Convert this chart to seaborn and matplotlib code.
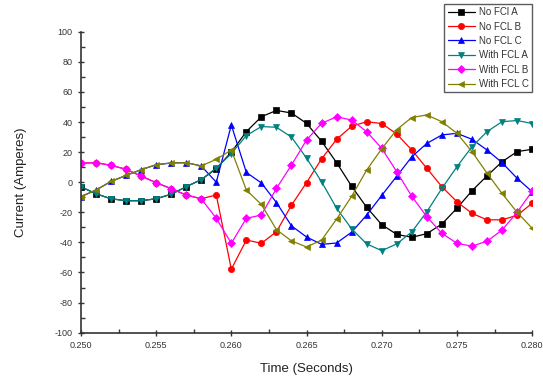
import matplotlib
matplotlib.use("Agg")
import matplotlib.pyplot as plt
import seaborn as sns
import pandas as pd
from matplotlib.ticker import MultipleLocator

time_s = [0.250, 0.251, 0.252, 0.253, 0.254, 0.255, 0.256, 0.257, 0.258, 0.259,
          0.260, 0.261, 0.262, 0.263, 0.264, 0.265, 0.266, 0.267, 0.268, 0.269,
          0.270, 0.271, 0.272, 0.273, 0.274, 0.275, 0.276, 0.277, 0.278, 0.279, 0.280]

no_fcl_a = [-3.0, -7.7, -11.0, -12.3, -12.3, -11.0, -8.0, -3.0, 1.7, 9.0,
            20.0, 33.6, 43.5, 47.7, 46.0, 39.1, 27.2, 13.0, -2.7, -16.7,
            -28.2, -34.7, -36.6, -34.2, -27.8, -17.3, -5.7, 4.2, 13.6, 20.3, 21.9]
no_fcl_b = [12.6, 13.0, 11.2, 8.6, 4.1, -0.3, -4.3, -8.5, -11.0, -8.5,
            -57.8, -38.4, -40.6, -32.9, -15.3, -0.3, 15.5, 28.5, 37.2, 40.2,
            39.0, 32.0, 21.4, 9.2, -3.0, -13.0, -20.7, -25.0, -25.0, -22.0, -14.0]
no_fcl_c = [-9.6, -5.2, 0.5, 4.5, 8.3, 11.6, 12.8, 13.0, 10.8, 0.0,
            38.0, 6.5, -0.5, -13.5, -29.0, -36.4, -41.3, -40.4, -33.2, -21.8,
            -8.8, 4.0, 16.9, 25.8, 31.4, 32.5, 28.5, 21.4, 13.0, 2.6, -6.3]
with_fcl_a = [-3.0, -7.7, -11.0, -12.3, -12.3, -11.0, -8.0, -3.0, 1.7, 9.5,
              19.0, 31.0, 37.0, 36.5, 30.0, 16.0, 0.3, -17.3, -31.0, -41.0,
              -45.5, -41.0, -33.0, -19.6, -4.1, 10.3, 23.6, 33.6, 40.2, 41.0, 39.0]
with_fcl_b = [12.6, 13.0, 11.2, 8.6, 4.1, -0.3, -4.3, -8.5, -11.0, -24.0,
              -40.6, -24.0, -21.8, -4.1, 11.4, 28.0, 39.1, 43.5, 41.3, 33.6,
              22.5, 7.0, -9.4, -23.0, -34.0, -40.6, -42.5, -39.2, -31.8, -20.0, -6.0]
with_fcl_c = [-9.6, -5.2, 0.5, 4.5, 8.3, 11.6, 12.8, 13.0, 10.8, 15.2,
              21.4, -5.2, -14.8, -31.5, -39.0, -43.0, -38.5, -24.5, -9.4, 8.1,
              22.2, 35.0, 43.0, 44.7, 40.2, 32.5, 20.3, 6.0, -7.5, -20.0, -30.6]

series_names = ["No FCl A", "No FCL B", "No FCL C", "With FCL A", "With FCL B", "With FCL C"]
series_vals = [no_fcl_a, no_fcl_b, no_fcl_c, with_fcl_a, with_fcl_b, with_fcl_c]
colors = ["#000000", "#FF0000", "#0000FF", "#008080", "#FF00FF", "#808000"]
markers = ["s", "o", "^", "v", "D", "<"]
msizes = [3.8, 4.5, 4.8, 4.8, 4.0, 4.8]

sns.set_style("ticks")
plt.rcParams['font.family'] = ['Liberation Sans', 'DejaVu Sans']
plt.rcParams['axes.unicode_minus'] = False

fig = plt.figure(figsize=(5.43, 3.80), dpi=100)
ax = fig.add_axes([0.149, 0.1245, 0.831, 0.792])

for name, vals, c, m, ms in zip(series_names, series_vals, colors, markers, msizes):
    df = pd.DataFrame({"t": time_s, "I": vals})
    sns.lineplot(data=df, x="t", y="I", ax=ax, color=c, marker=m, markersize=ms,
                 markeredgecolor=c, markeredgewidth=0.5, linewidth=0.9, label=name)

ax.set_xlim(0.250, 0.280)
ax.set_ylim(-100, 100)
ax.xaxis.set_major_locator(MultipleLocator(0.005))
ax.xaxis.set_minor_locator(MultipleLocator(0.0025))
ax.yaxis.set_major_locator(MultipleLocator(20))
ax.yaxis.set_minor_locator(MultipleLocator(10))
ax.set_xticks(ax.get_xticks())
ax.set_xticklabels([f"{v:.3f}" for v in ax.get_xticks()])
ax.set_xlim(0.250, 0.280)
ax.tick_params(axis="both", which="major", direction="inout", length=5, width=1,
               labelsize=6.5, colors="#333333", labelcolor="#333333")
ax.tick_params(axis="both", which="minor", direction="in", length=3, width=1, colors="#333333")
sns.despine(ax=ax)
for sp in ["left", "bottom"]:
    ax.spines[sp].set_linewidth(1.2)
    ax.spines[sp].set_color("#333333")

ax.set_xlabel("Time (Seconds)", fontsize=9.5, labelpad=9, color="#222222")
ax.set_ylabel("Current (Amperes)", fontsize=9.5, labelpad=20, color="#222222")

leg = ax.legend(loc="upper right", bbox_to_anchor=(1.0, 1.093), fontsize=7,
                frameon=True, fancybox=False, handlelength=2.8, handletextpad=0.4,
                borderpad=0.35, labelspacing=0.45, borderaxespad=0)
leg.get_frame().set_edgecolor("#333333")
leg.get_frame().set_linewidth(1.0)
for t in leg.get_texts():
    t.set_color("#333333")

fig.savefig("out.png", dpi=100)
